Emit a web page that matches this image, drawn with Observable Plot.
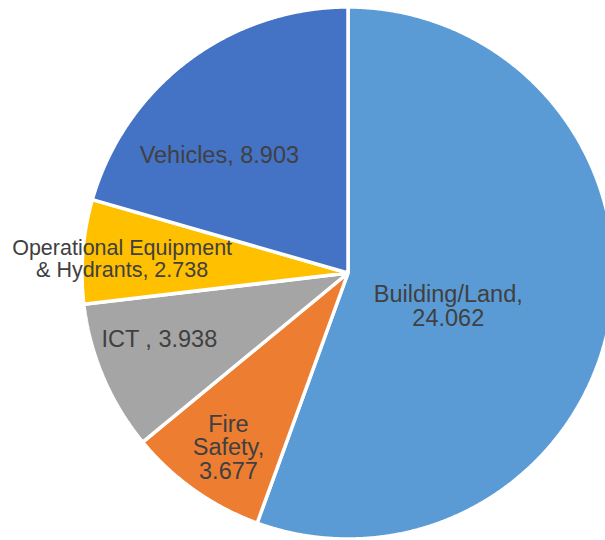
<!DOCTYPE html>
<html>
<head>
<meta charset="utf-8">
<script src="https://cdn.jsdelivr.net/npm/d3@7"></script>
<script src="https://cdn.jsdelivr.net/npm/@observablehq/plot@0.6"></script>
<style>
  html, body { margin: 0; padding: 0; background: #fff; overflow: hidden; }
  #chart { width: 605px; height: 540px; overflow: hidden; }
</style>
</head>
<body>
<div id="chart"></div>
<script>
// ---- data ----
const categories = ["Building/Land", "Fire Safety", "ICT ", "Operational Equipment & Hydrants", "Vehicles"];
const values = [24.062, 3.677, 3.938, 2.738, 8.903];
const colors = ["#5B9BD5", "#ED7D31", "#A5A5A5", "#FFC000", "#4472C4"];
// how each label is broken into lines ("|" = line break)
const labelTemplates = ["Building/Land,|{v}", "Fire|Safety,|{v}", "ICT , {v}", "Operational Equipment|& Hydrants, {v}", "Vehicles, {v}"];

// ---- label styling (radius fraction along mid-angle, pixel nudges, font size) ----
const labelRadius = [0.40, 0.795, 0.752, 0.852, 0.66];
const labelDx = [-4.5, 2.5, -4.7, 0, -23];
const labelDy = [15, 2, -12.3, 4, 22];
const labelSize = [23.5, 23.5, 23.5, 21.5, 23.5];
const labelLineHeight = [1.04, 1.0, 1.04, 1.01, 1.04];

const W = 605, H = 540;
const cx = 347.5, cy = 272.5, R = 266;

const fmt = d3.format(".3f");
const arcs = d3.pie().sort(null).value(d => d)(values);

// polygon points for each slice in unit-circle coordinates
const slices = arcs.map((a, i) => {
  const pts = [{x: 0, y: 0}];
  const n = Math.max(2, Math.ceil((a.endAngle - a.startAngle) / (Math.PI / 720)));
  for (let k = 0; k <= n; k++) {
    const t = a.startAngle + (a.endAngle - a.startAngle) * k / n;
    pts.push({x: Math.sin(t), y: Math.cos(t)});
  }
  return {name: categories[i], color: colors[i], pts};
});

const labels = arcs.map((a, i) => {
  const mid = (a.startAngle + a.endAngle) / 2;
  return {
    x: labelRadius[i] * Math.sin(mid),
    y: labelRadius[i] * Math.cos(mid),
    text: labelTemplates[i].replace("{v}", fmt(values[i])).split("|").join("\n"),
    i
  };
});

const marks = slices.map(s => Plot.line(s.pts, {
  x: "x", y: "y", curve: "linear-closed",
  fill: s.color, stroke: "white", strokeWidth: 3.5, strokeLinejoin: "miter"
}));

labels.forEach(l => {
  marks.push(Plot.text([l], {
    x: "x", y: "y", text: "text",
    dx: labelDx[l.i], dy: labelDy[l.i],
    fontSize: labelSize[l.i], lineHeight: labelLineHeight[l.i],
    fill: "#404040", textAnchor: "middle"
  }));
});

const chart = Plot.plot({
  width: W, height: H,
  margin: 0,
  style: {fontFamily: "Arial, 'Liberation Sans', sans-serif", background: "white", overflow: "hidden"},
  x: {domain: [-1, 1], range: [cx - R, cx + R], axis: null},
  y: {domain: [-1, 1], range: [cy + R, cy - R], axis: null},
  marks
});
document.getElementById("chart").append(chart);
</script>
</body>
</html>
